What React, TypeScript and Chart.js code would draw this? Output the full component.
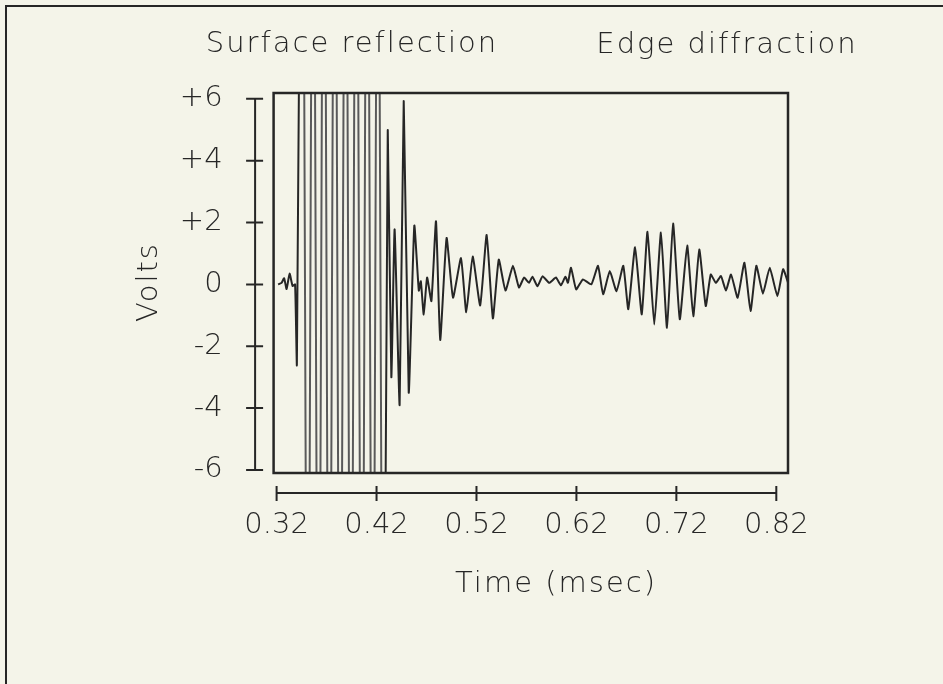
import React, { useEffect, useRef } from "react";
import { Chart, registerables } from "chart.js";

Chart.register(...registerables);

// ---- data ----
const TIME_MS = [
  0.3215, 0.325, 0.3275, 0.33, 0.333, 0.336, 0.3385, 0.3403,
  0.3457, 0.3511, 0.3565, 0.3619, 0.3673, 0.3727, 0.3782, 0.3835,
  0.389, 0.3943, 0.3997, 0.4053, 0.4106, 0.4161, 0.4214, 0.4265,
  0.4312, 0.4348, 0.4381, 0.4431, 0.4472, 0.4522, 0.4578, 0.4623,
  0.4643, 0.4672, 0.4706, 0.4749, 0.4795, 0.4837, 0.4901, 0.4965,
  0.5045, 0.5098, 0.5162, 0.5237, 0.5302, 0.5364, 0.5423, 0.549,
  0.5565, 0.5625, 0.5676, 0.5726, 0.576, 0.581, 0.5861, 0.5928,
  0.5995, 0.6045, 0.609, 0.6115, 0.6146, 0.6197, 0.6265, 0.6349,
  0.6416, 0.6467, 0.6534, 0.6601, 0.6669, 0.6719, 0.6787, 0.6854,
  0.6911, 0.6979, 0.7046, 0.7106, 0.7167, 0.7234, 0.7308, 0.7369,
  0.7429, 0.7494, 0.7544, 0.7595, 0.7646, 0.7696, 0.7747, 0.7813,
  0.7881, 0.7942, 0.8, 0.8066, 0.8134, 0.8211, 0.8268, 0.8318,
];
const VOLTS = [
  0.0, 0.05, 0.2, -0.15, 0.35, -0.05, 0.0, -2.6,
  20, -20, 20, -20, 20, -20, 20, -20,
  20, -20, 20, -20, 20, -20, 20, -20,
  4.96, -3.0, 1.78, -3.9, 5.93, -3.5, 1.9, -0.2,
  0.1, -0.97, 0.22, -0.54, 2.04, -1.8, 1.5, -0.43,
  0.85, -0.9, 0.9, -0.68, 1.6, -1.1, 0.8, -0.2,
  0.6, -0.1, 0.22, 0.05, 0.25, -0.06, 0.26, 0.05,
  0.22, -0.03, 0.25, 0.05, 0.54, -0.16, 0.16, 0.0,
  0.6, -0.32, 0.43, -0.22, 0.6, -0.8, 1.2, -0.97,
  1.7, -1.3, 1.68, -1.4, 1.97, -1.13, 1.26, -1.03,
  1.13, -0.7, 0.32, 0.05, 0.27, -0.2, 0.32, -0.43,
  0.7, -0.86, 0.6, -0.3, 0.54, -0.38, 0.49, 0.05,
];

const X_TICKS = [0.32, 0.42, 0.52, 0.62, 0.72, 0.82];
const X_TICK_LABELS = ["0.32", "0.42", "0.52", "0.62", "0.72", "0.82"];
const Y_TICKS = [-6, -4, -2, 0, 2, 4, 6];
const Y_TICK_LABELS = ["-6", "-4", "-2", "0", "+2", "+4", "+6"];
const X_RANGE = [0.317, 0.8317];
const Y_RANGE = [-6.1, 6.19];
const TITLE_LEFT = "Surface reflection";
const TITLE_RIGHT = "Edge diffraction";
const X_TITLE = "Time (msec)";
const Y_TITLE = "Volts";

// ---- style ----
const BG = "#f4f4e9";
const INK = "#262626";
const FAMILY = "'DejaVu Sans', sans-serif";
const FONT_SIZE = 29;
const FONT_WEIGHT = 200;

const decor = {
  id: "decor",
  afterDraw(chart: any) {
    const { ctx, chartArea: a, scales } = chart;
    const xs = scales.x;
    const ys = scales.y;
    ctx.save();
    ctx.strokeStyle = INK;
    ctx.lineCap = "butt";
    // plot frame
    ctx.lineWidth = 2.5;
    ctx.strokeRect(a.left, a.top, a.right - a.left, a.bottom - a.top);

    // detached y axis
    ctx.lineWidth = 2;
    const ax = a.left - 18.5;
    const yTop = ys.getPixelForValue(Y_TICKS[Y_TICKS.length - 1]);
    const yBot = ys.getPixelForValue(Y_TICKS[0]);
    ctx.beginPath();
    ctx.moveTo(ax, yTop);
    ctx.lineTo(ax, yBot);
    Y_TICKS.forEach((v) => {
      const py = ys.getPixelForValue(v);
      ctx.moveTo(ax - 9, py);
      ctx.lineTo(ax + 8, py);
    });
    ctx.stroke();

    // detached x axis
    const ay = a.bottom + 20;
    const xL = xs.getPixelForValue(X_TICKS[0]);
    const xR = xs.getPixelForValue(X_TICKS[X_TICKS.length - 1]);
    ctx.beginPath();
    ctx.moveTo(xL, ay);
    ctx.lineTo(xR, ay);
    X_TICKS.forEach((v) => {
      const px = xs.getPixelForValue(v);
      ctx.moveTo(px, ay - 7);
      ctx.lineTo(px, ay + 8);
    });
    ctx.stroke();

    // texts
    ctx.fillStyle = INK;
    ctx.font = `${FONT_WEIGHT} ${FONT_SIZE}px ${FAMILY}`;
    (ctx as any).letterSpacing = "2px";
    ctx.textAlign = "center";
    ctx.textBaseline = "alphabetic";
    ctx.fillText(TITLE_LEFT, 352, 52);
    ctx.fillText(TITLE_RIGHT, 727, 53);
    ctx.fillText(X_TITLE, 556, 592);
    ctx.translate(157, 282);
    ctx.rotate(-Math.PI / 2);
    ctx.fillText(Y_TITLE, 0, 0);
    ctx.restore();
  },
};

export default function App() {
  const ref = useRef<HTMLCanvasElement | null>(null);

  useEffect(() => {
    if (!ref.current) return;
    const points = TIME_MS.map((t, i) => ({ x: t, y: VOLTS[i] }));
    const font = { family: FAMILY, size: FONT_SIZE, weight: FONT_WEIGHT };
    const chart = new Chart(ref.current, {
      type: "line",
      data: {
        datasets: [
          {
            data: points,
            borderColor: INK,
            borderWidth: 2,
            pointRadius: 0,
            tension: 0.15,
            segment: {
              borderColor: (c: any) =>
                Math.abs(c.p0.parsed.y) > 6.2 && Math.abs(c.p1.parsed.y) > 6.2
                  ? "#5a5a5a"
                  : undefined,
            },
          },
        ],
      },
      options: {
        animation: false,
        responsive: false,
        devicePixelRatio: 1,
        layout: { padding: { left: 20, top: 93, right: 155, bottom: 91 } },
        plugins: {
          legend: { display: false },
          tooltip: { enabled: false },
          title: { display: false },
        },
        scales: {
          x: {
            type: "linear",
            min: X_RANGE[0],
            max: X_RANGE[1],
            grid: { display: false },
            border: { display: false },
            afterBuildTicks: (s: any) => {
              s.ticks = X_TICKS.map((value) => ({ value }));
            },
            afterFit: (s: any) => {
              s.height = 120;
            },
            ticks: {
              autoSkip: false,
              maxRotation: 0,
              padding: 27,
              color: INK,
              font,
              callback: (v: any) => X_TICK_LABELS[X_TICKS.indexOf(Number(v))] ?? "",
            },
          },
          y: {
            type: "linear",
            min: Y_RANGE[0],
            max: Y_RANGE[1],
            grid: { display: false },
            border: { display: false },
            afterBuildTicks: (s: any) => {
              s.ticks = Y_TICKS.map((value) => ({ value }));
            },
            afterFit: (s: any) => {
              s.width = 253.6;
            },
            ticks: {
              autoSkip: false,
              padding: 43,
              color: INK,
              font,
              callback: (v: any) => Y_TICK_LABELS[Y_TICKS.indexOf(Number(v))] ?? "",
            },
          },
        },
      },
      plugins: [decor],
    });
    return () => chart.destroy();
  }, []);

  return (
    <div
      style={{
        position: "absolute",
        left: 0,
        top: 0,
        width: 943,
        height: 684,
        background: BG,
        overflow: "hidden",
      }}
    >
      <div
        style={{
          position: "absolute",
          left: 5,
          top: 5,
          width: 940,
          height: 680,
          borderLeft: `2px solid ${INK}`,
          borderTop: `2px solid ${INK}`,
          pointerEvents: "none",
        }}
      />
      <canvas
        ref={ref}
        width={943}
        height={684}
        style={{ position: "absolute", left: 0, top: 0, display: "block" }}
      />
    </div>
  );
}
